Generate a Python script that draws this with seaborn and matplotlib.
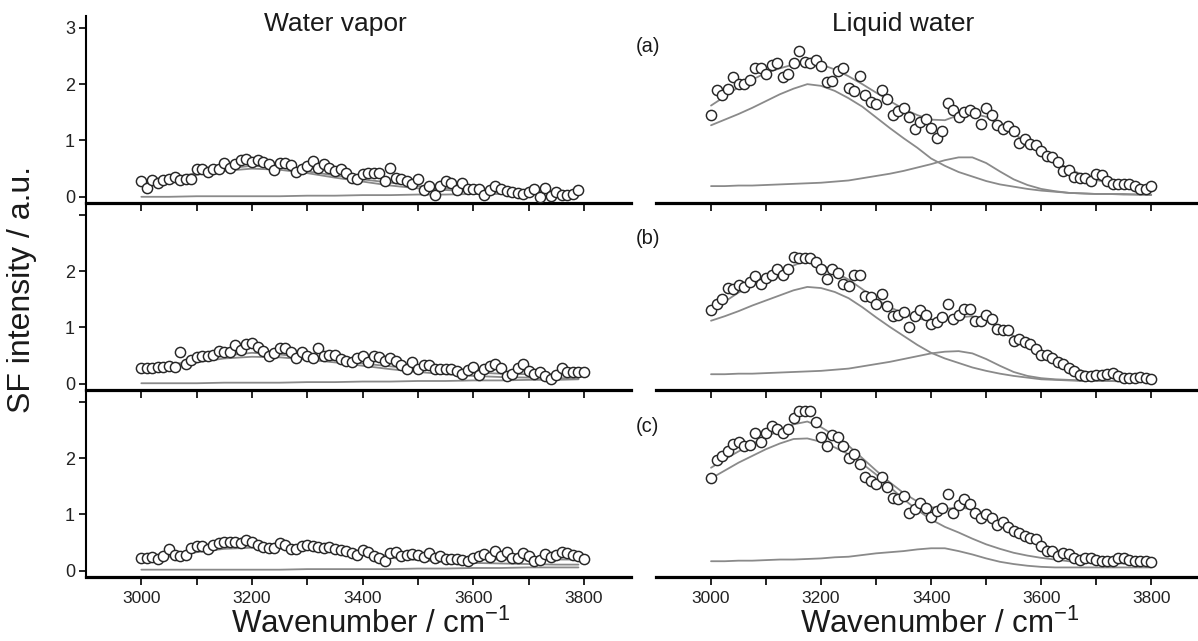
import numpy as np
import pandas as pd
import matplotlib
matplotlib.use("Agg")
import matplotlib.pyplot as plt
import seaborn as sns

# ---------------- data ----------------
# measured points, liquid water (3000..3800 step 10)
pts_x_liq = list(range(3000, 3801, 10))
liq_a = [1.45,1.90,1.80,1.92,2.12,2.01,2.01,2.07,2.28,2.29,
         2.18,2.34,2.37,2.12,2.18,2.37,2.59,2.39,2.38,2.43,
         2.32,2.04,2.06,2.23,2.29,1.94,1.88,2.15,1.80,1.68,
         1.64,1.90,1.74,1.45,1.52,1.58,1.41,1.21,1.33,1.39,
         1.23,1.05,1.17,1.66,1.55,1.42,1.51,1.55,1.48,1.29,
         1.58,1.45,1.27,1.20,1.25,1.17,0.95,1.02,0.93,0.92,
         0.81,0.72,0.70,0.61,0.46,0.47,0.36,0.34,0.33,0.28,
         0.40,0.38,0.28,0.22,0.22,0.22,0.22,0.19,0.13,0.14,
         0.19]
liq_b = [1.31,1.41,1.50,1.70,1.68,1.76,1.72,1.81,1.91,1.78,
         1.87,1.94,2.03,1.94,2.03,2.25,2.24,2.24,2.23,2.17,
         2.03,1.86,2.03,1.96,1.78,1.74,1.93,1.93,1.56,1.54,
         1.41,1.59,1.38,1.20,1.23,1.28,1.01,1.20,1.31,1.22,
         1.07,1.09,1.19,1.41,1.15,1.22,1.32,1.32,1.12,1.12,
         1.23,1.15,0.97,0.95,0.95,0.76,0.79,0.75,0.70,0.61,
         0.52,0.52,0.45,0.39,0.36,0.28,0.23,0.16,0.14,0.14,
         0.16,0.16,0.18,0.20,0.14,0.11,0.10,0.10,0.12,0.11,
         0.08]
liq_c = [1.64,1.96,2.04,2.13,2.26,2.29,2.22,2.23,2.44,2.28,
         2.44,2.57,2.51,2.44,2.51,2.71,2.83,2.84,2.83,2.65,
         2.38,2.22,2.41,2.37,2.22,2.01,2.07,1.89,1.67,1.60,
         1.54,1.67,1.48,1.29,1.27,1.33,1.03,1.09,1.21,1.11,
         0.96,1.07,1.12,1.36,1.03,1.17,1.27,1.19,1.02,0.94,
         1.00,0.94,0.81,0.86,0.77,0.71,0.68,0.62,0.58,0.56,
         0.44,0.35,0.35,0.26,0.32,0.30,0.23,0.20,0.23,0.22,
         0.20,0.18,0.17,0.18,0.22,0.22,0.20,0.18,0.17,0.17,
         0.16]

# measured points, water vapor
pts_x_vap_a = list(range(3000, 3791, 10))
vap_a = [0.28,0.16,0.29,0.24,0.29,0.31,0.35,0.30,0.32,0.32,
         0.49,0.49,0.44,0.50,0.50,0.60,0.52,0.58,0.65,0.67,
         0.62,0.65,0.61,0.58,0.48,0.60,0.60,0.56,0.44,0.50,
         0.55,0.64,0.52,0.58,0.52,0.46,0.49,0.42,0.34,0.31,
         0.40,0.42,0.42,0.42,0.28,0.52,0.34,0.31,0.28,0.22,
         0.31,0.12,0.19,0.03,0.19,0.28,0.24,0.12,0.24,0.13,
         0.14,0.13,0.03,0.12,0.19,0.13,0.10,0.09,0.07,0.05,
         0.09,0.13,0.00,0.16,0.01,0.08,0.03,0.03,0.05,0.12]
pts_x_vap = list(range(3000, 3801, 10))
vap_b = [0.28,0.28,0.28,0.29,0.30,0.32,0.30,0.56,0.36,0.42,
         0.48,0.50,0.50,0.51,0.58,0.56,0.57,0.69,0.60,0.70,
         0.72,0.66,0.58,0.50,0.54,0.64,0.63,0.57,0.45,0.57,
         0.50,0.46,0.64,0.50,0.52,0.52,0.44,0.41,0.38,0.45,
         0.50,0.38,0.50,0.48,0.40,0.45,0.41,0.33,0.26,0.38,
         0.26,0.33,0.34,0.26,0.26,0.26,0.26,0.23,0.17,0.24,
         0.30,0.15,0.26,0.31,0.36,0.28,0.13,0.17,0.28,0.36,
         0.22,0.17,0.21,0.13,0.09,0.15,0.28,0.21,0.21,0.21,
         0.21]
vap_c = [0.22,0.22,0.24,0.21,0.26,0.39,0.28,0.26,0.28,0.40,
         0.44,0.44,0.39,0.46,0.49,0.52,0.52,0.51,0.49,0.55,
         0.52,0.46,0.42,0.40,0.40,0.49,0.46,0.39,0.39,0.44,
         0.46,0.44,0.42,0.40,0.42,0.39,0.37,0.36,0.32,0.28,
         0.37,0.34,0.27,0.22,0.18,0.32,0.34,0.26,0.28,0.30,
         0.28,0.24,0.32,0.22,0.26,0.21,0.21,0.21,0.20,0.18,
         0.22,0.26,0.30,0.24,0.36,0.26,0.34,0.22,0.22,0.32,
         0.26,0.18,0.20,0.30,0.24,0.28,0.34,0.32,0.28,0.26,
         0.21]

# fit curves, liquid water (sampled every 25 cm-1)
fit_x_liq = list(range(3000, 3801, 25))
liq_a_fit = [1.62,1.78,1.95,2.08,2.20,2.28,2.35,2.38,2.35,2.26,2.14,2.00,1.85,1.70,1.56,1.45,1.37,
             1.36,1.45,1.48,1.42,1.28,1.12,0.96,0.80,0.64,0.50,0.39,0.30,0.24,0.19,0.16,0.14]
liq_a_c1 = [1.27,1.37,1.47,1.58,1.70,1.82,1.92,2.00,1.97,1.88,1.75,1.60,1.41,1.22,1.04,0.87,0.68,
            0.55,0.44,0.36,0.28,0.22,0.18,0.14,0.11,0.09,0.07,0.06,0.05,0.05,0.05,0.04,0.04]
liq_a_c2 = [0.19,0.19,0.20,0.20,0.21,0.22,0.23,0.24,0.25,0.27,0.29,0.33,0.37,0.41,0.46,0.52,0.58,
            0.65,0.70,0.70,0.60,0.45,0.31,0.21,0.14,0.10,0.07,0.06,0.05,0.05,0.04,0.04,0.03]
liq_b_fit = [1.30,1.46,1.62,1.75,1.88,1.98,2.10,2.20,2.12,1.98,1.85,1.68,1.50,1.36,1.25,1.16,1.12,
             1.14,1.18,1.20,1.12,0.99,0.85,0.71,0.58,0.44,0.32,0.23,0.17,0.14,0.12,0.11,0.10]
liq_b_c1 = [1.12,1.20,1.29,1.39,1.48,1.57,1.66,1.72,1.70,1.63,1.52,1.36,1.18,1.01,0.85,0.69,0.55,
            0.45,0.37,0.29,0.23,0.18,0.14,0.11,0.08,0.07,0.06,0.05,0.05,0.05,0.04,0.04,0.04]
liq_b_c2 = [0.17,0.17,0.18,0.18,0.19,0.20,0.21,0.22,0.23,0.25,0.27,0.31,0.35,0.39,0.44,0.49,0.54,
            0.57,0.58,0.54,0.44,0.32,0.21,0.14,0.10,0.08,0.07,0.06,0.06,0.05,0.05,0.05,0.05]
liq_c_fit = [1.83,1.98,2.12,2.25,2.38,2.49,2.60,2.65,2.55,2.40,2.22,2.00,1.78,1.57,1.38,1.23,1.13,
             1.10,1.12,1.10,1.00,0.88,0.75,0.61,0.48,0.38,0.30,0.24,0.20,0.18,0.17,0.16,0.16]
liq_c_c1 = [1.64,1.78,1.92,2.04,2.16,2.26,2.34,2.35,2.29,2.19,2.07,1.90,1.71,1.49,1.27,1.08,0.91,
            0.78,0.68,0.57,0.47,0.39,0.32,0.27,0.23,0.20,0.17,0.16,0.15,0.14,0.13,0.13,0.12]
liq_c_c2 = [0.17,0.17,0.18,0.18,0.19,0.20,0.20,0.21,0.22,0.24,0.25,0.28,0.31,0.33,0.35,0.38,0.40,
            0.40,0.35,0.29,0.22,0.16,0.12,0.09,0.07,0.06,0.06,0.06,0.06,0.06,0.06,0.06,0.06]

# fit curves, water vapor (sampled every 50 cm-1)
fit_x_vap = [3000,3050,3100,3150,3200,3250,3300,3350,3400,3450,3500,3550,3600,3650,3700,3750,3790]
vap_a_fit = [0.25,0.33,0.42,0.50,0.55,0.52,0.45,0.38,0.31,0.25,0.19,0.15,0.12,0.11,0.10,0.10,0.10]
vap_a_c1 = [0.24,0.31,0.39,0.46,0.50,0.48,0.42,0.34,0.27,0.20,0.15,0.12,0.10,0.09,0.09,0.08,0.08]
vap_a_c2 = [0.00,0.00,0.01,0.01,0.01,0.01,0.02,0.02,0.03,0.03,0.04,0.04,0.05,0.05,0.06,0.06,0.06]
vap_b_fit = [0.27,0.33,0.42,0.50,0.55,0.52,0.47,0.42,0.36,0.31,0.26,0.22,0.20,0.18,0.17,0.17,0.17]
vap_b_c1 = [0.26,0.31,0.38,0.45,0.48,0.47,0.43,0.38,0.32,0.26,0.21,0.17,0.14,0.12,0.11,0.10,0.10]
vap_b_c2 = [0.01,0.01,0.01,0.02,0.02,0.02,0.03,0.03,0.04,0.04,0.05,0.05,0.06,0.06,0.07,0.07,0.08]
vap_c_fit = [0.20,0.27,0.36,0.42,0.45,0.43,0.40,0.36,0.31,0.27,0.24,0.22,0.21,0.20,0.20,0.20,0.20]
vap_c_c1 = [0.19,0.25,0.33,0.39,0.41,0.40,0.37,0.33,0.28,0.23,0.19,0.16,0.14,0.13,0.12,0.11,0.11]
vap_c_c2 = [0.02,0.02,0.02,0.02,0.02,0.02,0.03,0.03,0.03,0.03,0.04,0.04,0.05,0.05,0.06,0.06,0.06]

col_titles = ["Water vapor", "Liquid water"]
panel_labels = ["(a)", "(b)", "(c)"]
x_ticks = list(range(3000, 3801, 100))
x_ticklabels = ["3000", "", "3200", "", "3400", "", "3600", "", "3800"]
y_ticks = [0, 1, 2, 3]
xlabel = "Wavenumber / cm$^{\\mathregular{-1}}$"
ylabel = "SF intensity / a.u."

# ---------------- style ----------------
sns.set_theme(style="ticks")
plt.rcParams["font.family"] = ["Liberation Sans", "DejaVu Sans"]
plt.rcParams["axes.facecolor"] = "none"

W, H = 1198, 641
fig = plt.figure(figsize=(W / 100, H / 100), dpi=100)

LINE_C = "#8a8a8a"
EDGE_C = "#262626"
XLIM = (2900, 3885)
YLIM = (-0.11, 3.21)

col_px = [(86, 545), (656, 542)]
row_top_px = [16, 203, 390]
row_h_px = 187

vap_sets = [
    (pts_x_vap_a, vap_a, vap_a_fit, vap_a_c1, vap_a_c2),
    (pts_x_vap, vap_b, vap_b_fit, vap_b_c1, vap_b_c2),
    (pts_x_vap, vap_c, vap_c_fit, vap_c_c1, vap_c_c2),
]
liq_sets = [
    (pts_x_liq, liq_a, liq_a_fit, liq_a_c1, liq_a_c2),
    (pts_x_liq, liq_b, liq_b_fit, liq_b_c1, liq_b_c2),
    (pts_x_liq, liq_c, liq_c_fit, liq_c_c1, liq_c_c2),
]


def draw(ax, px, py, fx, f, c1, c2):
    for yy in (c2, c1, f):
        sns.lineplot(x=fx, y=yy, ax=ax, color=LINE_C, lw=1.3, estimator=None,
                     sort=False, legend=False, zorder=2)
    sns.scatterplot(x=px, y=py, ax=ax, s=54, color="white", edgecolor=EDGE_C,
                    linewidth=1.05, legend=False, zorder=3)


for c in range(2):
    x0, w = col_px[c]
    for r in range(3):
        top = row_top_px[r]
        ax = fig.add_axes([x0 / W, 1 - (top + row_h_px) / H, w / W, row_h_px / H])
        fx = fit_x_vap if c == 0 else fit_x_liq
        px, py, f, c1, c2 = (vap_sets if c == 0 else liq_sets)[r]
        draw(ax, px, py, fx, f, c1, c2)
        ax.set_xlim(*XLIM)
        ax.set_ylim(*YLIM)
        ax.set_xlabel("")
        ax.set_ylabel("")
        for s in ["top", "right"]:
            ax.spines[s].set_visible(False)
        ax.spines["bottom"].set_linewidth(2.3)
        ax.spines["bottom"].set_color("black")
        ax.set_xticks(x_ticks)
        if r == 2:
            ax.set_xticklabels(x_ticklabels)
        else:
            ax.set_xticklabels([""] * len(x_ticks))
        ax.tick_params(axis="x", direction="out", length=6, width=1.2,
                       colors="black", labelsize=12.5, pad=4, labelcolor="#222222")
        if c == 0:
            ax.spines["left"].set_linewidth(1.5)
            ax.spines["left"].set_color("black")
            ax.set_yticks(y_ticks)
            ax.set_yticklabels(["0", "1", "2", "3"] if r == 0 else ["0", "1", "2", ""])
            ax.tick_params(axis="y", direction="out", length=5, width=1.2,
                           colors="black", labelsize=13, pad=3, labelcolor="#222222")
        else:
            ax.spines["left"].set_visible(False)
            ax.set_yticks([])
        if r == 0:
            fig.text((x0 + (3350 - XLIM[0]) * w / (XLIM[1] - XLIM[0])) / W, 1 - 24 / H,
                     col_titles[c], ha="center", va="center", fontsize=19, color="#1a1a1a")
        if r == 2:
            fig.text((x0 + (3415 - XLIM[0]) * w / (XLIM[1] - XLIM[0])) / W, 1 - 633 / H,
                     xlabel, ha="center", va="baseline", fontsize=22.5, color="#1a1a1a")

label_y_px = [46, 239, 426]
for r in range(3):
    fig.text(636 / W, 1 - label_y_px[r] / H, panel_labels[r], ha="left", va="center",
             fontsize=14.5, color="#1a1a1a")

fig.text(22 / W, 1 - 290 / H, ylabel, rotation=90, ha="center", va="center",
         fontsize=23, color="#1a1a1a")

fig.savefig("out.png", dpi=100, facecolor="white")
